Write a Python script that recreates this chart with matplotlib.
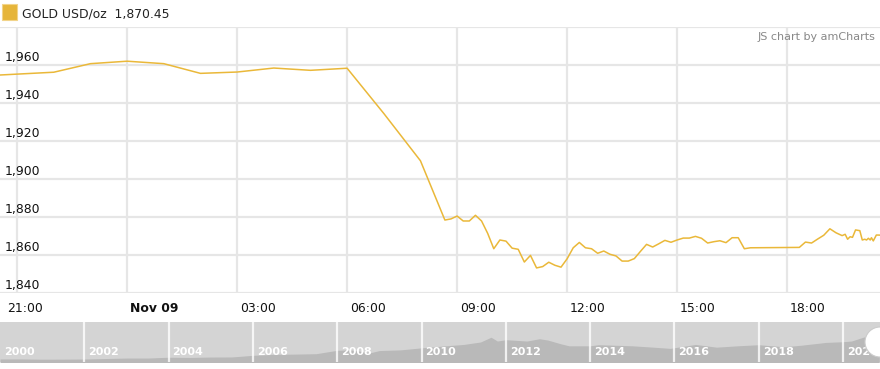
import matplotlib
matplotlib.use("Agg")
import matplotlib.pyplot as plt
import matplotlib.dates as mdates
import matplotlib.transforms as mtransforms
from matplotlib.patches import Circle, Rectangle
import pandas as pd

plt.rcParams['font.family'] = ['DejaVu Sans']

# ---------------- data ----------------
hourly_times = ["2020-11-08 20:00", "2020-11-08 21:00", "2020-11-08 22:00", "2020-11-08 23:00",
                "2020-11-09 00:00", "2020-11-09 01:00", "2020-11-09 02:00", "2020-11-09 03:00",
                "2020-11-09 04:00", "2020-11-09 05:00", "2020-11-09 06:00", "2020-11-09 07:00",
                "2020-11-09 08:00"]
hourly_values = [1954.2, 1955.2, 1956.2, 1960.7, 1962.0, 1960.7, 1955.6, 1956.3,
                 1958.4, 1957.2, 1958.3, 1934.5, 1909.6]

fine_times = ["08:40", "08:50", "09:00", "09:10", "09:20", "09:30", "09:40", "09:50",
              "10:00", "10:10", "10:20", "10:30", "10:40", "10:50", "11:00", "11:10",
              "11:20", "11:30", "11:40", "11:50", "12:00", "12:10", "12:20", "12:30",
              "12:40", "12:50", "13:00", "13:10", "13:20", "13:30", "13:40", "13:50",
              "14:00", "14:10", "14:20", "14:30", "14:40", "14:50", "15:00", "15:10",
              "15:20", "15:30", "15:40", "15:50", "16:00", "16:10", "16:20", "16:30",
              "16:40", "16:50", "17:00", "18:20", "18:30", "18:40", "18:50", "19:00",
              "19:10", "19:20", "19:30", "19:35", "19:39", "19:43", "19:47", "19:52",
              "19:59", "20:03", "20:07", "20:10", "20:13", "20:16", "20:18", "20:21",
              "20:26", "20:29", "20:32"]
fine_values = [1878.4, 1879.0, 1880.5, 1877.9, 1877.9, 1880.9, 1877.9, 1871.4,
               1863.3, 1867.9, 1867.3, 1863.6, 1863.0, 1856.3, 1859.8, 1853.2,
               1853.9, 1856.2, 1854.6, 1853.6, 1858.0, 1863.8, 1866.6, 1863.8,
               1863.3, 1860.9, 1862.1, 1860.4, 1859.5, 1856.8, 1856.8, 1858.1,
               1861.9, 1865.6, 1864.2, 1865.9, 1867.7, 1866.7, 1867.9, 1868.9,
               1868.9, 1869.8, 1868.8, 1866.3, 1867.0, 1867.5, 1866.5, 1869.1,
               1869.1, 1863.3, 1863.8, 1864.0, 1866.8, 1866.3, 1868.4, 1870.4,
               1873.8, 1871.7, 1870.2, 1870.9, 1868.3, 1869.6, 1869.3, 1873.2,
               1872.8, 1867.9, 1868.3, 1867.9, 1868.8, 1867.9, 1869.1, 1867.4,
               1870.5, 1870.5, 1870.45]

y_ticks = [1840, 1860, 1880, 1900, 1920, 1940, 1960]
x_tick_times = ["2020-11-08 21:00", "2020-11-09 00:00", "2020-11-09 03:00", "2020-11-09 06:00",
                "2020-11-09 09:00", "2020-11-09 12:00", "2020-11-09 15:00", "2020-11-09 18:00"]
x_tick_labels = ["21:00", "Nov 09", "03:00", "06:00", "09:00", "12:00", "15:00", "18:00"]
x_range = ["2020-11-08 20:32", "2020-11-09 20:32"]

legend_label = "GOLD USD/oz"
legend_value = "1,870.45"

# scrollbar overview (long history)
hist_years = [2000.0, 2000.5, 2001.0, 2001.5, 2002.0, 2002.5, 2003.0, 2003.5, 2004.0, 2004.5,
              2005.0, 2005.5, 2006.0, 2006.5, 2007.0, 2007.5, 2008.0, 2008.3, 2008.8, 2009.0,
              2009.5, 2010.0, 2010.5, 2011.0, 2011.4, 2011.65, 2011.8, 2012.0, 2012.5, 2012.8,
              2013.0, 2013.3, 2013.5, 2014.0, 2014.2, 2014.5, 2015.0, 2015.5, 2015.9, 2016.5,
              2017.0, 2017.5, 2018.0, 2018.6, 2019.0, 2019.6, 2020.0, 2020.2, 2020.6, 2020.86]
hist_prices = [285, 285, 265, 270, 280, 315, 350, 350, 410, 395,
               425, 430, 550, 620, 640, 670, 920, 950, 750, 900,
               950, 1100, 1230, 1350, 1530, 1880, 1600, 1700, 1600, 1770,
               1670, 1400, 1250, 1250, 1330, 1300, 1250, 1150, 1060, 1350,
               1150, 1250, 1330, 1180, 1290, 1500, 1550, 1600, 2000, 1870]
scroll_years = list(range(2000, 2022, 2))
scroll_labels = [str(y) for y in scroll_years]

# ---------------- figure ----------------
W, H = 880, 369
fig = plt.figure(figsize=(W / 100, H / 100), dpi=100)
fig.patch.set_facecolor("white")

def fy(px):
    return 1 - px / H

line_color = "#EAB839"
grid_color = "#e6e6e6"
FS = 8.9

ax = fig.add_axes([0, fy(293), 1, (293 - 27) / H])
times = pd.to_datetime(hourly_times + ["2020-11-09 " + t for t in fine_times])
vals = hourly_values + fine_values
ax.plot(mdates.date2num(times), vals, color=line_color, lw=1.1, solid_joinstyle="round")

xr = mdates.date2num(pd.to_datetime(x_range))
ax.set_xlim(xr[0], xr[1])
ax.set_ylim(1840, 1980)
for s in ax.spines.values():
    s.set_visible(False)
ax.set_xticks([])
ax.set_yticks([])

# horizontal grid
for yv in y_ticks + [1980]:
    ax.axhline(yv, color=grid_color, lw=1.6, zorder=0)
# vertical grid
xt = mdates.date2num(pd.to_datetime(x_tick_times))
for xv in xt:
    ax.axvline(xv, color=grid_color, lw=1.6, zorder=0)

# y labels (inside, above gridline)
ytrans = mtransforms.blended_transform_factory(fig.transFigure, ax.transData)
for yv in y_ticks:
    ax.text(5 / W, yv, f"{yv:,}", transform=ytrans + mtransforms.ScaledTranslation(0, 1 / 100, fig.dpi_scale_trans),
            ha="left", va="bottom", fontsize=FS, color="#111111")

# x labels
xtrans = mtransforms.blended_transform_factory(ax.transData, fig.transFigure)
for i, (xv, lab) in enumerate(zip(xt, x_tick_labels)):
    off = -10 if i == 0 else 3
    ax.text(xv, fy(308), lab,
            transform=xtrans + mtransforms.ScaledTranslation(off / 100, 0, fig.dpi_scale_trans),
            ha="left", va="center", fontsize=FS, color="#111111",
            fontweight="bold" if lab.startswith("Nov") else "normal")

# legend
fig.patches.append(Rectangle((2 / W, fy(20)), 15 / W, 16 / H, transform=fig.transFigure,
                             facecolor="#E6B53A", edgecolor="#F2D48A", lw=0.8))
fig.text(22 / W, fy(14), legend_label + "  " + legend_value, ha="left", va="center",
         fontsize=FS, color="#222222")

# credit
fig.text(875 / W, fy(37), "JS chart by amCharts", ha="right", va="center",
         fontsize=8, color="#888888")

# scrollbar
sax = fig.add_axes([0, fy(362), 1, 40 / H])
sax.set_facecolor("#d4d4d4")
sax.fill_between(hist_years, hist_prices, 0, color="#b9b9b9", lw=0)
sax.set_xlim(2000.0, 2000 + 880 / 42.15)
sax.set_ylim(60, 3000)
for s in sax.spines.values():
    s.set_visible(False)
sax.set_xticks([])
sax.set_yticks([])
for yr, lab in zip(scroll_years, scroll_labels):
    if yr > 2000:
        sax.axvline(yr, color="white", lw=1.6, alpha=0.8)
    sax.text(yr, 0.24, lab, transform=mtransforms.blended_transform_factory(sax.transData, sax.transAxes)
             + mtransforms.ScaledTranslation(4 / 100, 0, fig.dpi_scale_trans),
             ha="left", va="center", fontsize=8, fontweight="bold", color="white")

# grip
grip = Circle((880, H - 342), 15, transform=mtransforms.IdentityTransform(),
              facecolor="white", edgecolor="#cccccc", lw=0.8, zorder=10)
fig.patches.append(grip)

fig.savefig("out.png", dpi=100, facecolor="white")
